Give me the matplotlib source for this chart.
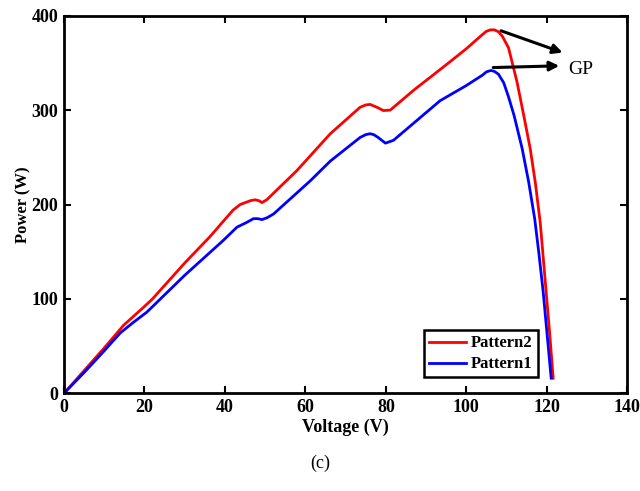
import numpy as np
import matplotlib.pyplot as plt

plt.rcParams['font.family'] = ['Liberation Serif', 'DejaVu Serif']

# Pattern2 (red)
v2 = [0, 5, 10, 14.8, 20, 22, 30, 36.3, 42, 43.8, 46.3, 47.5, 48.5, 49.2, 50.4, 57.9,
      66.2, 73.6, 75, 76.1, 77.8, 79.4, 81.1, 86.9, 95, 100, 104, 105, 106, 107, 108,
      109, 110.5, 112.6, 114.3, 115.9, 117.2, 118.4, 119.7, 120.7, 121.6]
p2 = [0, 24, 48, 72, 92, 100, 138, 166, 194, 200, 204, 205, 204, 202, 205, 236,
      275, 303, 305.5, 306, 303, 299.5, 300, 321, 348, 365, 380, 383.5, 385, 385, 383,
      378, 366, 330, 294, 259, 222, 180, 115, 65, 16]

# Pattern1 (blue)
v1 = [0, 5, 10, 14, 17.2, 20.6, 30, 39.6, 43, 45.4, 47.1, 48.2, 49.2, 50.5, 52.1, 61.2,
      66.2, 73.6, 75, 76.1, 77, 78.1, 79.9, 81.9, 93.5, 100, 104, 105, 106.1, 107, 108,
      109.3, 110.5, 111.9, 113.9, 115.5, 117, 118, 119.1, 120.1, 121.1]
p1 = [0, 22, 45, 64, 75, 86, 125, 162, 176, 181, 185, 185, 184, 186, 190, 225,
      246, 271, 274, 275, 274, 271, 265, 268, 310, 326, 337, 340.5, 342, 341, 338,
      329, 314, 294, 259, 224, 185, 150, 108, 62, 16]

fig = plt.figure(figsize=(6.4, 4.91), dpi=100)
ax = fig.add_axes([0.1, 0.199, 0.88, 0.769])

ax.plot(v2, p2, color='#ff0000', lw=2, label='Pattern2', solid_joinstyle='round')
ax.plot(v1, p1, color='#0000ff', lw=2, label='Pattern1', solid_joinstyle='round')

ax.set_xlim(0, 140)
ax.set_ylim(0, 400)
ax.set_xticks(np.arange(0, 141, 20))
ax.set_yticks(np.arange(0, 401, 100))
ax.tick_params(direction='in', top=True, right=True, length=5, width=1.5,
               labelsize=13, pad=4)
for lab in ax.get_xticklabels() + ax.get_yticklabels():
    lab.set_fontweight('bold')
for s in ax.spines.values():
    s.set_linewidth(2)

ax.set_xlabel('Voltage (V)', fontsize=13, fontweight='bold', labelpad=2)
ax.set_ylabel('Power (W)', fontsize=12, fontweight='bold', labelpad=0)

ax.annotate('', xy=(124.6, 360), xytext=(108, 385),
            arrowprops=dict(arrowstyle='-|>', color='black', lw=2.2, mutation_scale=14))
ax.annotate('', xy=(123.8, 347), xytext=(106, 345),
            arrowprops=dict(arrowstyle='-|>', color='black', lw=2.2, mutation_scale=14))
ax.text(125.3, 343, 'GP', fontsize=14, va='center', ha='left')

leg = ax.legend(loc='lower left', bbox_to_anchor=(0.625, 0.02), fancybox=False,
                edgecolor='black', framealpha=1, handlelength=2.2,
                prop={'weight': 'bold', 'size': 12}, borderpad=0.3,
                labelspacing=0.3, handletextpad=0.3)
leg.get_frame().set_linewidth(1.8)

fig.text(0.5, 0.057, '(c)', fontsize=13, ha='center', va='center')

fig.savefig('out.png', dpi=100)
